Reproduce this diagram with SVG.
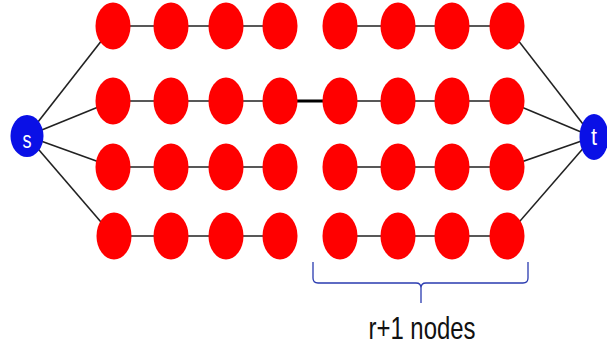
<svg xmlns="http://www.w3.org/2000/svg" width="607" height="350" viewBox="0 0 607 350">
<style>
.e{stroke:#222;stroke-width:1.6;fill:none}
.thick{stroke:#000;stroke-width:3.2}
.n{fill:#ff0000}
.st{fill:#0a10e6}
.lbl{font-family:"Liberation Sans",Arial,sans-serif;fill:#fff;font-size:24px;text-anchor:middle}
.cap{font-family:"Liberation Sans",Arial,sans-serif;fill:#111;font-size:32px;text-anchor:middle}
.br{stroke:#2a3bb0;stroke-width:1.3;fill:none}
</style>
<rect width="607" height="350" fill="#fff"/>
<g id="connectors">
<line class="e" x1="27" y1="136" x2="113" y2="26"/>
<line class="e" x1="27" y1="136" x2="113" y2="101"/>
<line class="e" x1="27" y1="136" x2="113" y2="167"/>
<line class="e" x1="27" y1="136" x2="113" y2="236"/>
<line class="e" x1="593" y1="137" x2="507" y2="26"/>
<line class="e" x1="593" y1="137" x2="507" y2="101"/>
<line class="e" x1="593" y1="137" x2="507" y2="167"/>
<line class="e" x1="593" y1="137" x2="507" y2="236"/>
<path class="e" d="M113 26H280M340 26H507M113 101H280M340 101H507M113 167H280M340 167H507M113 236H280M340 236H507"/>
<line class="e thick" x1="280" y1="101" x2="340" y2="101"/>
</g>
<g id="r1">
<ellipse class="n" cx="113" cy="26" rx="17.5" ry="23.5"/><ellipse class="n" cx="171" cy="26" rx="17.5" ry="23.5"/><ellipse class="n" cx="226" cy="26" rx="17.5" ry="23.5"/><ellipse class="n" cx="280" cy="26" rx="17.5" ry="23.5"/><ellipse class="n" cx="340" cy="26" rx="17.5" ry="23.5"/><ellipse class="n" cx="398" cy="26" rx="17.5" ry="23.5"/><ellipse class="n" cx="452" cy="26" rx="17.5" ry="23.5"/><ellipse class="n" cx="507" cy="26" rx="17.5" ry="23.5"/>
</g>
<g id="r2">
<ellipse class="n" cx="113" cy="101" rx="17.5" ry="23.5"/><ellipse class="n" cx="171" cy="101" rx="17.5" ry="23.5"/><ellipse class="n" cx="226" cy="101" rx="17.5" ry="23.5"/><ellipse class="n" cx="280" cy="101" rx="17.5" ry="23.5"/><ellipse class="n" cx="340" cy="101" rx="17.5" ry="23.5"/><ellipse class="n" cx="398" cy="101" rx="17.5" ry="23.5"/><ellipse class="n" cx="452" cy="101" rx="17.5" ry="23.5"/><ellipse class="n" cx="507" cy="101" rx="17.5" ry="23.5"/>
</g>
<g id="r3">
<ellipse class="n" cx="113" cy="167" rx="17.5" ry="23.5"/><ellipse class="n" cx="171" cy="167" rx="17.5" ry="23.5"/><ellipse class="n" cx="226" cy="167" rx="17.5" ry="23.5"/><ellipse class="n" cx="280" cy="167" rx="17.5" ry="23.5"/><ellipse class="n" cx="340" cy="167" rx="17.5" ry="23.5"/><ellipse class="n" cx="398" cy="167" rx="17.5" ry="23.5"/><ellipse class="n" cx="452" cy="167" rx="17.5" ry="23.5"/><ellipse class="n" cx="507" cy="167" rx="17.5" ry="23.5"/>
</g>
<g id="r4">
<ellipse class="n" cx="114" cy="236" rx="17.5" ry="23.5"/><ellipse class="n" cx="171" cy="236" rx="17.5" ry="23.5"/><ellipse class="n" cx="226" cy="236" rx="17.5" ry="23.5"/><ellipse class="n" cx="280" cy="236" rx="17.5" ry="23.5"/><ellipse class="n" cx="340" cy="236" rx="17.5" ry="23.5"/><ellipse class="n" cx="398" cy="236" rx="17.5" ry="23.5"/><ellipse class="n" cx="452" cy="236" rx="17.5" ry="23.5"/><ellipse class="n" cx="507" cy="236" rx="17.5" ry="23.5"/>
</g>
<g id="s">
<ellipse class="st" cx="27" cy="136" rx="16.5" ry="21"/>
<text class="lbl" x="27" y="148" textLength="9" lengthAdjust="spacingAndGlyphs">s</text>
</g>
<g id="t">
<ellipse class="st" cx="594" cy="137" rx="14.5" ry="23"/>
<text class="lbl" x="594" y="145" textLength="6" lengthAdjust="spacingAndGlyphs">t</text>
</g>
<g id="bracket">
<path class="br" d="M313 262V278Q313 283 318 283H416Q421 283 421 288V303M421 288Q421 283 426 283H523Q528 283 528 278V262"/>
<text class="cap" x="422" y="339" textLength="107" lengthAdjust="spacingAndGlyphs">r+1 nodes</text>
</g>
</svg>
